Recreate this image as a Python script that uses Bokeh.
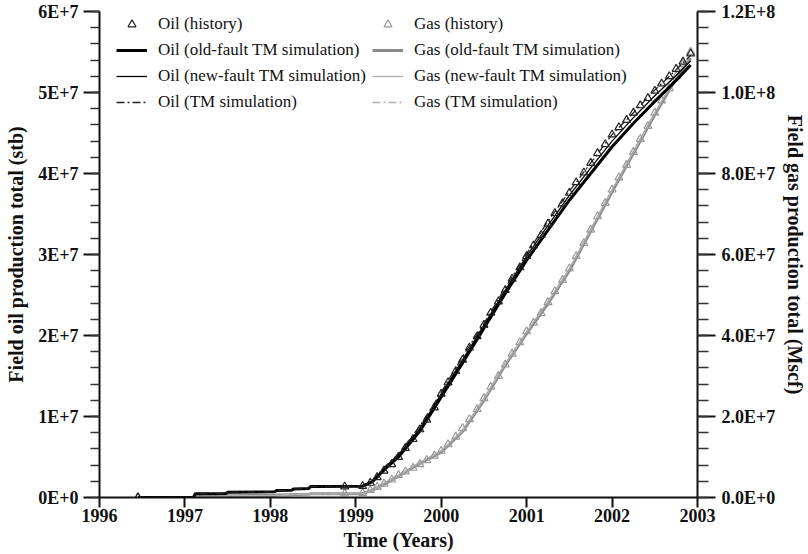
from bokeh.plotting import figure
from bokeh.models import Range1d, LinearAxis, FixedTicker, Legend, LegendItem
from bokeh.embed import file_html
from bokeh.resources import INLINE

# ---------------- data ----------------
years = [1996, 1997, 1998, 1999, 2000, 2001, 2002, 2003]
year_labels = ["1996", "1997", "1998", "1999", "2000", "2001", "2002", "2003"]

oil_ticks = [0.0, 1e7, 2e7, 3e7, 4e7, 5e7, 6e7]
oil_tick_labels = ["0E+0", "1E+7", "2E+7", "3E+7", "4E+7", "5E+7", "6E+7"]
gas_ticks = [0.0, 2e7, 4e7, 6e7, 8e7, 1e8, 1.2e8]
gas_tick_labels = ["0.0E+0", "2.0E+7", "4.0E+7", "6.0E+7", "8.0E+7", "1.0E+8", "1.2E+8"]

# history (monthly from 1999.17), values in millions
hist_t = [1996.45, 1998.87, 1999.08,
          1999.17, 1999.25, 1999.33, 1999.42, 1999.50, 1999.58, 1999.67, 1999.75, 1999.83, 1999.92,
          2000.00, 2000.08, 2000.17, 2000.25, 2000.33, 2000.42, 2000.50, 2000.58, 2000.67, 2000.75,
          2000.83, 2000.92, 2001.00, 2001.08, 2001.17, 2001.25, 2001.33, 2001.42, 2001.50, 2001.58,
          2001.67, 2001.75, 2001.83, 2001.92, 2002.00, 2002.08, 2002.17, 2002.25, 2002.33, 2002.42,
          2002.50, 2002.58, 2002.67, 2002.75, 2002.83, 2002.92]
oil_hist = [0.0, 1.35, 1.4,
            1.8, 2.5, 3.3, 4.1, 5.0, 6.1, 7.2, 8.4, 9.6, 11.1,
            12.8, 14.2, 15.6, 17.0, 18.5, 19.9, 21.3, 22.8, 24.2, 25.6,
            27.0, 28.4, 29.8, 31.1, 32.4, 33.8, 35.1, 36.3, 37.6, 38.9,
            40.1, 41.3, 42.5, 43.6, 44.8, 45.7, 46.6, 47.5, 48.4, 49.3,
            50.2, 51.1, 52.0, 52.9, 53.8, 54.8]
gas_hist = [0.0, 1.0, 1.1,
            1.8, 2.6, 3.4, 4.4, 5.5, 6.4, 7.3, 8.2, 9.2, 10.3,
            11.5, 13.1, 15.0, 17.1, 19.3, 21.8, 24.5, 27.3, 30.0, 32.8,
            35.5, 38.3, 41.0, 43.1, 45.5, 48.2, 50.9, 53.7, 56.5, 59.6,
            62.8, 66.1, 69.4, 72.7, 76.0, 79.0, 82.1, 85.3, 88.5, 91.7,
            95.0, 98.0, 101.0, 104.0, 107.0, 110.0]

# simulations (millions)
sim_t = [1996.45, 1997.10, 1997.12, 1997.48, 1997.50, 1998.05, 1998.07, 1998.25, 1998.27,
         1998.45, 1998.47, 1999.08,
         1999.20, 1999.35, 1999.50, 1999.75, 2000.00, 2000.25, 2000.50, 2000.75, 2001.00,
         2001.25, 2001.50, 2001.75, 2002.00, 2002.25, 2002.50, 2002.75, 2002.92]
oil_old = [0.0, 0.0, 0.45, 0.5, 0.65, 0.7, 0.85, 0.9, 1.05, 1.1, 1.35, 1.4,
           2.0, 3.6, 5.0, 8.2, 12.4, 16.6, 20.9, 25.2, 29.3,
           33.0, 36.7, 40.0, 43.3, 46.2, 48.9, 51.5, 53.4]
oil_new = [0.0, 0.0, 0.45, 0.5, 0.65, 0.7, 0.85, 0.9, 1.05, 1.1, 1.35, 1.4,
           2.1, 3.8, 5.3, 8.5, 12.8, 17.0, 21.3, 25.6, 29.8,
           33.6, 37.3, 40.7, 44.0, 46.9, 49.6, 52.1, 53.9]
oil_tm = [0.0, 0.0, 0.45, 0.5, 0.65, 0.7, 0.85, 0.9, 1.05, 1.1, 1.35, 1.4,
          2.2, 3.9, 5.4, 8.8, 13.0, 17.4, 21.5, 25.9, 30.1,
          34.1, 37.8, 41.3, 44.8, 47.5, 50.3, 52.8, 54.6]
gas_old = [0.0, 0.0, 0.3, 0.35, 0.45, 0.5, 0.6, 0.65, 0.75, 0.8, 0.9, 0.95,
           1.9, 3.5, 5.3, 8.4, 11.2, 16.3, 24.0, 32.7, 40.5,
           47.9, 56.0, 65.8, 75.5, 85.0, 94.5, 103.5, 108.5]
gas_new = [0.0, 0.0, 0.3, 0.35, 0.45, 0.5, 0.6, 0.65, 0.75, 0.8, 0.9, 0.95,
           1.9, 3.6, 5.4, 8.6, 11.5, 16.6, 24.4, 33.0, 40.9,
           48.4, 56.5, 66.2, 76.0, 85.4, 95.0, 104.0, 109.2]
gas_tm = [0.0, 0.0, 0.3, 0.35, 0.45, 0.5, 0.6, 0.65, 0.75, 0.8, 0.9, 0.95,
          1.8, 3.5, 5.4, 8.5, 11.4, 16.5, 24.3, 32.9, 40.8,
          48.2, 56.3, 66.0, 75.8, 85.2, 94.8, 103.8, 109.5]

M = 1e6
def sc(v):
    return [x * M for x in v]

# ---------------- figure ----------------
p = figure(frame_width=598, frame_height=486,
           x_range=Range1d(1996, 2003), y_range=Range1d(0, 6e7),
           output_backend="svg", toolbar_location=None,
           min_border_left=99, min_border_right=111, min_border_top=11, min_border_bottom=57)
p.extra_y_ranges = {"gas": Range1d(0, 1.2e8)}
p.outline_line_color = None
p.xgrid.grid_line_color = None
p.ygrid.grid_line_color = None
p.background_fill_color = "white"
p.border_fill_color = "white"

TICK_FONT = "Liberation Sans Narrow"
TITLE_FONT = "Liberation Serif"

def style_axis(ax, title):
    ax.axis_line_width = 2
    ax.axis_line_color = "#111111"
    ax.major_tick_line_width = 2
    ax.major_tick_line_color = "#111111"
    ax.minor_tick_line_width = 1.5
    ax.minor_tick_line_color = "#333333"
    ax.major_tick_in = 0
    ax.minor_tick_in = 0
    ax.major_label_text_font = TICK_FONT
    ax.major_label_text_font_style = "bold"
    ax.major_label_text_font_size = "18px"
    ax.major_label_text_color = "#111111"
    ax.axis_label = title
    ax.axis_label_text_font = TITLE_FONT
    ax.axis_label_text_font_style = "bold"
    ax.axis_label_text_font_size = "20px"
    ax.axis_label_text_color = "#111111"

xa = p.xaxis[0]
xa.ticker = FixedTicker(ticks=years, minor_ticks=[])
xa.major_label_overrides = {y: l for y, l in zip(years, year_labels)}
style_axis(xa, "Time (Years)")
xa.major_tick_out = 10
xa.major_label_standoff = 1
xa.axis_label_standoff = 4

ya = p.yaxis[0]
ya.ticker = FixedTicker(ticks=oil_ticks, minor_ticks=[i * 2e6 for i in range(31)])
ya.major_label_overrides = {t: l for t, l in zip(oil_ticks, oil_tick_labels)}
style_axis(ya, "Field oil production total (stb)")
ya.major_tick_out = 16
ya.minor_tick_out = 9
ya.major_label_standoff = 5
ya.axis_label_standoff = 8

ra = LinearAxis(y_range_name="gas")
ra.ticker = FixedTicker(ticks=gas_ticks, minor_ticks=[i * 4e6 for i in range(31)])
ra.major_label_overrides = {t: l for t, l in zip(gas_ticks, gas_tick_labels)}
style_axis(ra, "Field gas production total (Mscf)")
ra.major_tick_out = 18
ra.minor_tick_out = 11
ra.major_label_standoff = 6
ra.axis_label_standoff = 6
p.add_layout(ra, "right")

# ---------------- glyphs ----------------
GAS_DARK = "#8a8a8a"
GAS_LIGHT = "#b0b0b0"

g_gas_old = p.line(sim_t, sc(gas_old), y_range_name="gas", line_color=GAS_DARK, line_width=3)
g_gas_new = p.line(sim_t, sc(gas_new), y_range_name="gas", line_color=GAS_LIGHT, line_width=1.3)
g_gas_tm = p.line(sim_t, sc(gas_tm), y_range_name="gas", line_color=GAS_LIGHT, line_width=1.3,
                  line_dash="8 3 2 3")
g_gas_hist = p.scatter(hist_t, sc(gas_hist), y_range_name="gas", marker="triangle", size=8,
                       fill_color=None, line_color="#9a9a9a", line_width=1.2)

g_oil_old = p.line(sim_t, sc(oil_old), line_color="black", line_width=3)
g_oil_new = p.line(sim_t, sc(oil_new), line_color="black", line_width=1.3)
g_oil_tm = p.line(sim_t, sc(oil_tm), line_color="#222222", line_width=1.3, line_dash="8 3 2 3")
g_oil_hist = p.scatter(hist_t, sc(oil_hist), marker="triangle", size=8,
                       fill_color=None, line_color="#222222", line_width=1.2)

def make_legend(items, loc):
    leg = Legend(items=items, location=loc, orientation="vertical",
                 glyph_width=31, glyph_height=20, label_height=20,
                 label_standoff=11, spacing=6, padding=0, margin=0,
                 border_line_color=None, background_fill_alpha=0,
                 label_text_font=TITLE_FONT, label_text_font_size="17px",
                 label_text_color="#111111")
    return leg

leg_oil = make_legend([
    LegendItem(label="Oil (history)", renderers=[g_oil_hist]),
    LegendItem(label="Oil (old-fault TM simulation)", renderers=[g_oil_old]),
    LegendItem(label="Oil (new-fault TM simulation)", renderers=[g_oil_new]),
    LegendItem(label="Oil (TM simulation)", renderers=[g_oil_tm]),
], (17, 385))
leg_gas = make_legend([
    LegendItem(label="Gas (history)", renderers=[g_gas_hist]),
    LegendItem(label="Gas (old-fault TM simulation)", renderers=[g_gas_old]),
    LegendItem(label="Gas (new-fault TM simulation)", renderers=[g_gas_new]),
    LegendItem(label="Gas (TM simulation)", renderers=[g_gas_tm]),
], (273, 385))
p.add_layout(leg_oil)
p.add_layout(leg_gas)

open("out.html", "w").write(file_html(p, INLINE))
